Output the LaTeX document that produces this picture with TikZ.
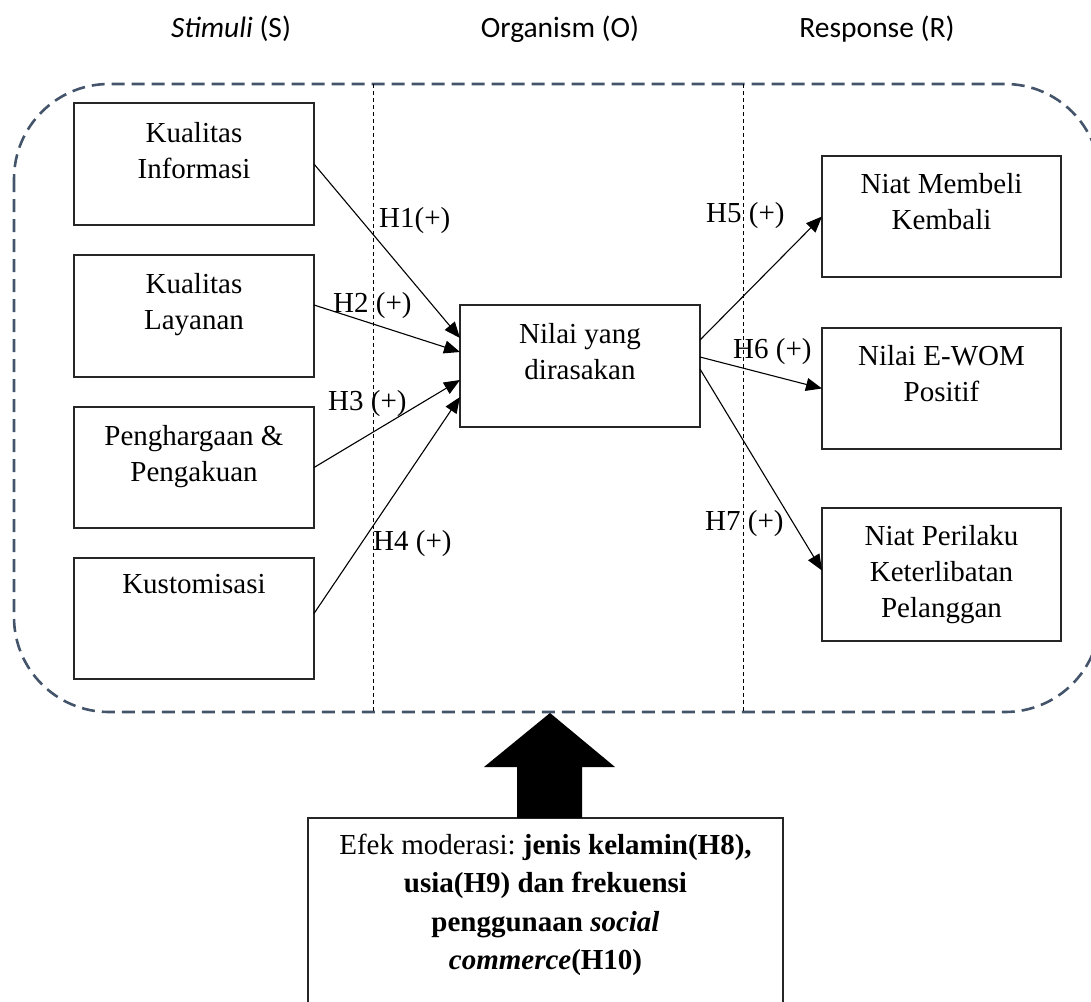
\documentclass[tikz,border=0pt]{standalone}
\usepackage{fontspec}
\setmainfont{Liberation Serif}
\newfontfamily\hdrfont{Carlito}
\usetikzlibrary{arrows.meta,calc}
\definecolor{framecol}{HTML}{44546A}
% width, height, first-baseline offset, baselineskip, text
\newcommand{\bxtext}[5]{\parbox[c][#2pt][t]{#1pt}{\centering\frenchspacing\fontsize{29}{#4}\selectfont\rule{0pt}{#3pt}#5}}
\begin{document}
\begin{tikzpicture}[x=1pt,y=-1pt,
  boxstyle/.style={draw=black!85, line width=1.3pt, inner sep=0pt, outer sep=0pt},
  conn/.style={line width=1.1pt, -{Triangle[length=16pt,width=13pt]}},
  hyp/.style={anchor=base west, inner sep=0pt, font=\fontsize{29}{34}\selectfont},
  hdr/.style={anchor=base, inner sep=0pt, font=\hdrfont\fontsize{29.5}{34}\selectfont},
  frame/.style={draw=framecol, line width=2.6pt, dash pattern=on 13pt off 7pt, rounded corners=95pt},
  divider/.style={draw=black, line width=0.9pt, dash pattern=on 4pt off 3pt},
]
\useasboundingbox (0,0) rectangle (1091,1001);

% headers
\node[hdr] (hs) at (231,37) {\textit{Stimuli} (S)};
\node[hdr] (ho) at (560,37) {Organism (O)};
\node[hdr] (hr) at (877,37) {Response (R)};

% dashed frame and dividers
\draw[frame] (14,84) rectangle (1100,712);
\coordinate (d1t) at (373,84); \coordinate (d1b) at (373,712);
\coordinate (d2t) at (743,84); \coordinate (d2b) at (743,712);
\draw[divider] (d1t) -- (d1b);
\draw[divider] (d2t) -- (d2b);

% stimuli boxes
\node[boxstyle] (ki) at (194,164) {\bxtext{240}{122}{39}{36}{Kualitas\\Informasi}};
\node[boxstyle] (kl) at (194,316) {\bxtext{240}{122}{38}{36}{Kualitas\\Layanan}};
\node[boxstyle] (ph) at (194,467.5) {\bxtext{240}{121}{38}{36}{Penghargaan \&\\Pengakuan}};
\node[boxstyle] (ks) at (194,618.5) {\bxtext{240}{121}{35}{36}{Kustomisasi}};

% organism box
\node[boxstyle] (nv) at (580,366) {\bxtext{240}{122}{38}{36}{Nilai yang\\dirasakan}};

% response boxes
\node[boxstyle] (nm) at (941.5,216.5) {\bxtext{239}{121}{37}{36}{Niat Membeli\\Kembali}};
\node[boxstyle] (ew) at (941.5,388.5) {\bxtext{239}{121}{37}{36}{Nilai E-WOM\\Positif}};
\node[boxstyle] (np) at (941.5,574.5) {\bxtext{239}{133}{37}{36}{Niat Perilaku\\Keterlibatan\\Pelanggan}};

% moderation box
\node[boxstyle] (mod) at (545.5,910.5) {\bxtext{475}{185}{36}{38.5}{Efek moderasi: \textbf{jenis kelamin(H8),}\\\textbf{usia(H9) dan frekuensi}\\\textbf{penggunaan \textit{social}}\\\textbf{\textit{commerce}(H10)}}};

% connectors
\draw[conn] (ki.east) -- ([yshift=28pt]nv.west);
\draw[conn] ([yshift=11pt]kl.east) -- ([yshift=14pt]nv.west);
\draw[conn] (ph.east) -- ([yshift=-14pt]nv.west);
\draw[conn] ([yshift=5pt]ks.east) -- ([yshift=-31pt]nv.west);
\draw[conn] ([yshift=26pt]nv.east) -- (nm.west);
\draw[conn] ([yshift=9pt]nv.east) -- (ew.west);
\draw[conn] ([yshift=-3pt]nv.east) -- ([yshift=4pt]np.west);

% hypothesis labels
\node[hyp] (h1) at (379,227) {H1(+)};
\node[hyp] (h2) at (333,312) {H2 (+)};
\node[hyp] (h3) at (328,410) {H3 (+)};
\node[hyp] (h4) at (373,550) {H4 (+)};
\node[hyp] (h5) at (706,222) {H5 (+)};
\node[hyp] (h6) at (733,358) {H6 (+)};
\node[hyp] (h7) at (705,530) {H7 (+)};

% big block arrow from moderation box to frame
\coordinate (tip) at (550,713);
\fill[black] ([xshift=-28.5pt]mod.north) -- ++(0,-51) -- ++(-33,0) -- (tip)
  -- ([xshift=69.5pt,yshift=51pt]mod.north) -- ++(-33,0) -- ([xshift=36.5pt]mod.north) -- cycle;
\end{tikzpicture}
\end{document}
